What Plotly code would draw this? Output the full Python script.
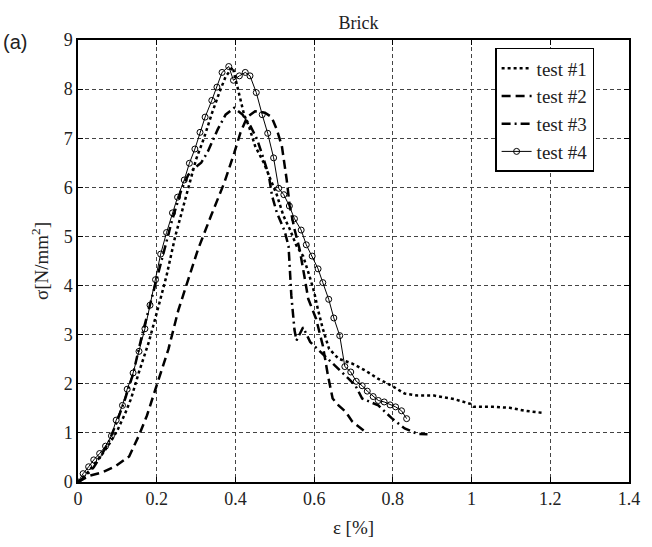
import plotly.graph_objects as go

# test #1 (dotted)
eps1 = [0, 0.02, 0.04, 0.06, 0.08, 0.10, 0.12, 0.135, 0.155, 0.18, 0.205, 0.225, 0.247, 0.267,
        0.285, 0.30, 0.32, 0.34, 0.36, 0.375, 0.393, 0.40, 0.41, 0.422, 0.434, 0.45, 0.472,
        0.488, 0.505, 0.522, 0.538, 0.555, 0.572, 0.588, 0.60, 0.61, 0.622, 0.638, 0.662,
        0.697, 0.73, 0.763, 0.797, 0.83, 0.863, 0.905, 0.955, 0.997, 1.005, 1.055, 1.097,
        1.137, 1.178]
sig1 = [0, 0.15, 0.35, 0.55, 0.78, 1.05, 1.40, 1.70, 2.24, 2.85, 3.59, 4.20, 5.00, 5.60,
        6.10, 6.57, 7.00, 7.50, 7.95, 8.25, 8.45, 8.20, 7.90, 7.48, 7.25, 6.84, 6.50,
        6.17, 5.85, 5.42, 5.15, 4.81, 4.60, 4.20, 3.87, 3.50, 3.12, 2.71, 2.51,
        2.41, 2.27, 2.10, 1.96, 1.80, 1.76, 1.76, 1.69, 1.59, 1.53, 1.53, 1.51,
        1.45, 1.41]

# test #2 (dashed)
eps2 = [0, 0.03, 0.063, 0.097, 0.13, 0.155, 0.175, 0.20, 0.23, 0.255, 0.272, 0.305, 0.338,
        0.372, 0.397, 0.413, 0.43, 0.45, 0.475, 0.492, 0.505, 0.518, 0.53, 0.538, 0.55,
        0.563, 0.575, 0.585, 0.605, 0.622, 0.635, 0.647, 0.662, 0.68, 0.697, 0.718, 0.73]
sig2 = [0, 0.13, 0.20, 0.33, 0.52, 0.95, 1.35, 1.96, 2.71, 3.50, 3.93, 4.74, 5.42,
        6.10, 6.70, 7.12, 7.43, 7.55, 7.52, 7.43, 7.18, 6.84, 6.17, 5.62, 5.15,
        4.74, 4.20, 3.73, 3.32, 2.78, 2.17, 1.70, 1.56, 1.43, 1.23, 1.09, 1.02]

# test #3 (dash-dot)
eps3 = [0, 0.02, 0.04, 0.06, 0.08, 0.10, 0.12, 0.14, 0.163, 0.188, 0.213, 0.238, 0.263, 0.28,
        0.297, 0.313, 0.33, 0.355, 0.375, 0.397, 0.418, 0.438, 0.455, 0.472, 0.485, 0.493,
        0.505, 0.525, 0.535, 0.542, 0.55, 0.555, 0.572, 0.59, 0.62, 0.655, 0.688, 0.705,
        0.722, 0.763, 0.797, 0.83, 0.863, 0.888]
sig3 = [0, 0.12, 0.30, 0.55, 0.85, 1.25, 1.70, 2.20, 3.00, 3.79, 4.53, 5.30, 5.96, 6.25,
        6.40, 6.50, 6.73, 7.18, 7.48, 7.62, 7.48, 7.25, 6.98, 6.57, 6.23, 5.83,
        5.49, 5.11, 4.80, 3.80, 3.10, 2.88, 3.15, 2.85, 2.62, 2.37, 2.10, 1.96,
        1.70, 1.56, 1.30, 1.09, 0.98, 0.97]

# test #4 (solid with circles)
eps4 = [0, 0.013, 0.027, 0.04, 0.055, 0.07, 0.085, 0.097, 0.113, 0.125, 0.14, 0.155, 0.17,
        0.183, 0.197, 0.21, 0.225, 0.24, 0.253, 0.27, 0.283, 0.297, 0.31, 0.323, 0.34,
        0.353, 0.366, 0.383, 0.395, 0.41, 0.425, 0.437, 0.453, 0.468, 0.482, 0.497, 0.51,
        0.523, 0.537, 0.55, 0.567, 0.58, 0.595, 0.61, 0.622, 0.637, 0.65, 0.665, 0.678,
        0.693, 0.707, 0.722, 0.735, 0.75, 0.763, 0.778, 0.793, 0.807, 0.822, 0.835]
sig4 = [0, 0.17, 0.31, 0.45, 0.58, 0.73, 0.94, 1.26, 1.56, 1.89, 2.22, 2.66, 3.12,
        3.60, 4.12, 4.64, 5.08, 5.48, 5.80, 6.15, 6.49, 6.78, 7.12, 7.43, 7.77,
        8.04, 8.34, 8.46, 8.18, 8.27, 8.34, 8.27, 7.93, 7.48, 7.10, 6.60, 5.98,
        5.85, 5.62, 5.36, 5.13, 4.83, 4.60, 4.34, 4.06, 3.72, 3.34, 2.98, 2.35,
        2.24, 2.05, 1.96, 1.85, 1.74, 1.66, 1.63, 1.57, 1.53, 1.45, 1.29]

names = ["test #1", "test #2", "test #3", "test #4"]
x_ticks = [0, 0.2, 0.4, 0.6, 0.8, 1, 1.2, 1.4]
x_labels = ["0", "0.2", "0.4", "0.6", "0.8", "1", "1.2", "1.4"]
y_ticks = list(range(0, 10))

SERIF = "Liberation Serif"

fig = go.Figure()
fig.add_trace(go.Scatter(x=eps1, y=sig1, name=names[0], mode="lines",
                         line=dict(color="black", width=2.5, dash="dot")))
fig.add_trace(go.Scatter(x=eps2, y=sig2, name=names[1], mode="lines",
                         line=dict(color="black", width=2.5, dash="9px,5px")))
fig.add_trace(go.Scatter(x=eps3, y=sig3, name=names[2], mode="lines",
                         line=dict(color="black", width=2.5, dash="9px,4px,2px,4px")))
fig.add_trace(go.Scatter(x=eps4, y=sig4, name=names[3], mode="lines+markers",
                         line=dict(color="black", width=1),
                         marker=dict(symbol="circle-open", size=6, color="black",
                                     line=dict(width=1))))

axis_common = dict(
    showline=True, linecolor="black", linewidth=1.5, mirror="ticks",
    ticks="inside", ticklen=5, tickcolor="black",
    showgrid=True, gridcolor="#444", gridwidth=1, griddash="4px,3px",
    zeroline=False,
    tickfont=dict(family=SERIF, size=18, color="#222"),
)

fig.update_xaxes(range=[0, 1.4], tickvals=x_ticks, ticktext=x_labels,
                 title=dict(text="ε [%]", font=dict(family=SERIF, size=19, color="#222"),
                            standoff=12),
                 **axis_common)
fig.update_yaxes(range=[0, 9], tickvals=y_ticks,
                 title=dict(text="σ[N/mm<sup>2</sup>]",
                            font=dict(family=SERIF, size=19, color="#222"), standoff=10),
                 **axis_common)

fig.update_layout(
    width=652, height=547,
    margin=dict(l=78, r=14, t=40, b=64),
    paper_bgcolor="white", plot_bgcolor="white",
    title=dict(text="Brick", x=0.55, xanchor="center", y=0.958, yanchor="middle",
               font=dict(family=SERIF, size=18, color="#222")),
    legend=dict(x=0.757, y=0.982, xanchor="left", yanchor="top",
                bgcolor="white", bordercolor="black", borderwidth=1.5,
                font=dict(family=SERIF, size=19, color="#222"),
                tracegroupgap=0),
    showlegend=True,
    annotations=[dict(text="(a)", xref="paper", yref="paper", x=-0.14, y=0.995,
                      xanchor="left", yanchor="middle", showarrow=False,
                      font=dict(family="Liberation Sans", size=20, color="#222"))],
)

fig.write_html(
    "out.html",
    config={"displayModeBar": False},
    post_script="document.body.style.margin='0';document.body.style.overflow='hidden';",
)
